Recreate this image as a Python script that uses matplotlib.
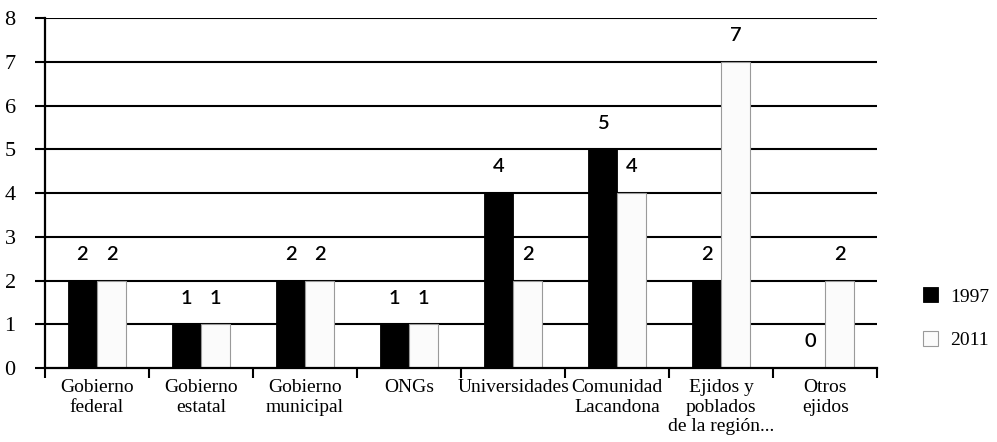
import matplotlib.pyplot as plt
import numpy as np

categories = ['Gobierno\nfederal', 'Gobierno\nestatal', 'Gobierno\nmunicipal', 'ONGs',
              'Universidades', 'Comunidad\nLacandona', 'Ejidos y\npoblados\nde la región...',
              'Otros\nejidos']
v1997 = [2, 1, 2, 1, 4, 5, 2, 0]
v2011 = [2, 1, 2, 1, 2, 4, 7, 2]
years = ['1997', '2011']

serif = 'Liberation Serif'
sans = 'Lato'

fig = plt.figure(figsize=(9.97, 4.42), dpi=100)
ax = fig.add_axes([0.045, 0.167, 0.835, 0.792])

x = np.arange(len(categories)) + 0.5
w = 0.28

for y in range(1, 9):
    ax.axhline(y, color='black', lw=1.5, zorder=1)

b1 = ax.bar(x - w / 2, v1997, w, color='black', edgecolor='black', lw=0.6,
            zorder=2, label=years[0])
b2 = ax.bar(x + w / 2, v2011, w, color='#fbfbfb', edgecolor='#9a9a9a', lw=0.8,
            zorder=2, label=years[1])

# value labels sit a fixed distance above each bar top
for xs, vals in ((x - w / 2, v1997), (x + w / 2, v2011)):
    for xi, v in zip(xs, vals):
        ax.text(xi, v + 0.6, str(v), ha='center', va='center', fontsize=14.5,
                family=sans, weight='semibold', color='black', zorder=3)

ax.set_xlim(0, len(categories))
ax.set_ylim(0, 8)
ax.set_yticks(range(9))
ax.set_yticklabels([str(i) for i in range(9)], family=serif, fontsize=16)
ax.tick_params(axis='y', length=7, width=1.5, pad=14)

ax.set_xticks(np.arange(len(categories) + 1))
ax.set_xticklabels([])
ax.set_xticks(x, minor=True)
ax.set_xticklabels(categories, minor=True, family=serif, fontsize=14,
                   linespacing=1.2, va='top')
ax.tick_params(axis='x', which='major', length=7, width=1.5, direction='out')
ax.tick_params(axis='x', which='minor', length=0, pad=8)

for s in ('top', 'right'):
    ax.spines[s].set_visible(False)
for s in ('left', 'bottom'):
    ax.spines[s].set_linewidth(1.6)
    ax.spines[s].set_zorder(3)

fig.legend(handles=[b1, b2], loc='center left', bbox_to_anchor=(0.908, 0.28),
           frameon=False, handlelength=0.8, handleheight=0.8,
           labelspacing=1.3, handletextpad=0.6,
           prop={'family': serif, 'size': 14})

fig.savefig('out.png', dpi=100)
